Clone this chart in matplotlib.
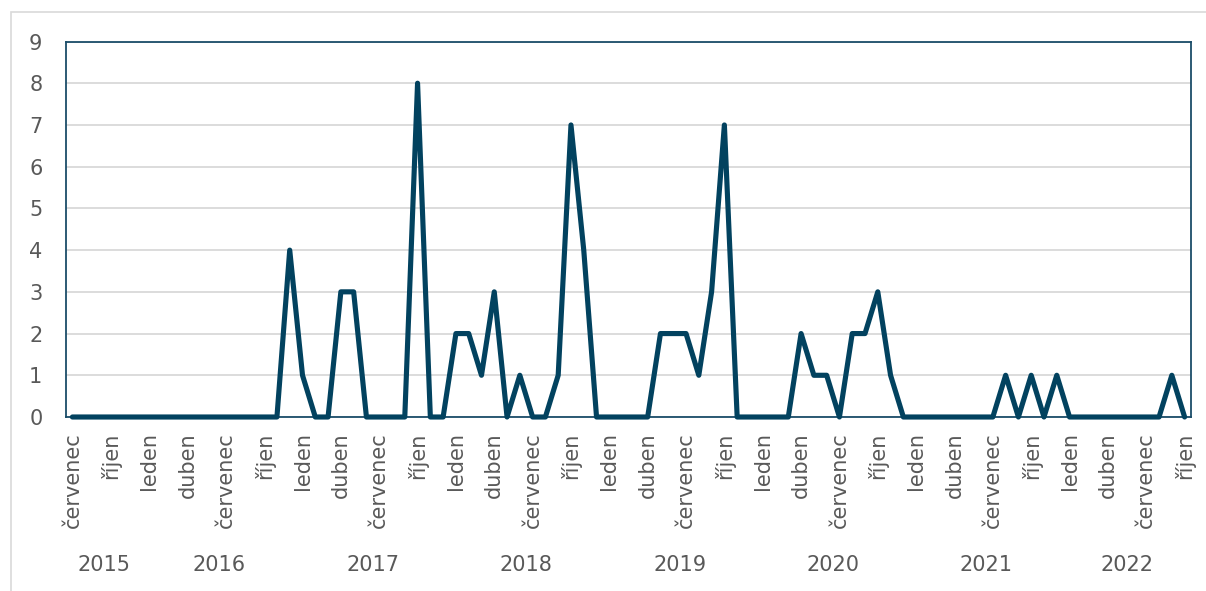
import matplotlib
matplotlib.use("Agg")
import matplotlib.pyplot as plt
from matplotlib.patches import Rectangle
import matplotlib.transforms as mtransforms

# ---- data ----
month_names = ['leden', 'únor', 'březen', 'duben', 'květen', 'červen',
               'červenec', 'srpen', 'září', 'říjen', 'listopad', 'prosinec']
start_year, start_month = 2015, 7   # červenec 2015
values = [0, 0, 0, 0, 0, 0,                      # 2015 VII-XII
          0, 0, 0, 0, 0, 0, 0, 0, 0, 0, 0, 4,    # 2016
          1, 0, 0, 3, 3, 0, 0, 0, 0, 8, 0, 0,    # 2017
          2, 2, 1, 3, 0, 1, 0, 0, 1, 7, 4, 0,    # 2018
          0, 0, 0, 0, 2, 2, 2, 1, 3, 7, 0, 0,    # 2019
          0, 0, 0, 2, 1, 1, 0, 2, 2, 3, 1, 0,    # 2020
          0, 0, 0, 0, 0, 0, 0, 1, 0, 1, 0, 1,    # 2021
          0, 0, 0, 0, 0, 0, 0, 0, 1, 0]          # 2022 I-X
y_ticks = list(range(0, 10))

# derived category info
n = len(values)
months = [(start_month - 1 + i) % 12 for i in range(n)]
years = [start_year + (start_month - 1 + i) // 12 for i in range(n)]

LINE = '#02425f'
FRAME = '#1b4d69'
GRID = '#d9d9d9'
TXT = '#595959'
FS = 15

W, H = 1206, 591
fig = plt.figure(figsize=(W / 100, H / 100), dpi=100)
fig.patch.set_facecolor('white')

# outer chart border (light gray)
fig.patches.append(Rectangle((11 / W, -0.1), 1.2, 1 - 12 / H + 0.1,
                             transform=fig.transFigure, fill=False,
                             edgecolor=GRID, linewidth=1.2))

x0, x1, ytop, ybot = 66, 1191, 41.5, 417
ax = fig.add_axes([x0 / W, 1 - ybot / H, (x1 - x0) / W, (ybot - ytop) / H])

x = list(range(n))
ax.plot(x, values, color=LINE, lw=3.7, solid_joinstyle='round',
        solid_capstyle='round', clip_on=False, zorder=4)

ax.set_xlim(-0.5, n - 0.5)
ax.set_ylim(0, 9)
ax.set_yticks(y_ticks)
ax.yaxis.grid(True, color=GRID, lw=1.3)
ax.set_axisbelow(True)
for s in ax.spines.values():
    s.set_color(FRAME)
    s.set_linewidth(1.3)

ax.tick_params(axis='y', length=0, pad=17, labelsize=FS, labelcolor=TXT)

tick_pos = [i for i in range(n) if months[i] % 3 == 0]
ax.set_xticks(tick_pos)
ax.set_xticklabels([month_names[months[i]] for i in tick_pos], rotation=90,
                   va='top', ha='center')
ax.tick_params(axis='x', length=0, pad=11, labelsize=FS, labelcolor=TXT)

# year group labels
trans = mtransforms.blended_transform_factory(ax.transData, fig.transFigure)
for yr in sorted(set(years)):
    idx = [i for i in range(n) if years[i] == yr]
    cx = (idx[0] + idx[-1]) / 2
    ax.text(cx, 1 - 565 / H, str(yr), transform=trans, ha='center',
            va='center', fontsize=FS, color=TXT)

fig.savefig('out.png', dpi=100)
